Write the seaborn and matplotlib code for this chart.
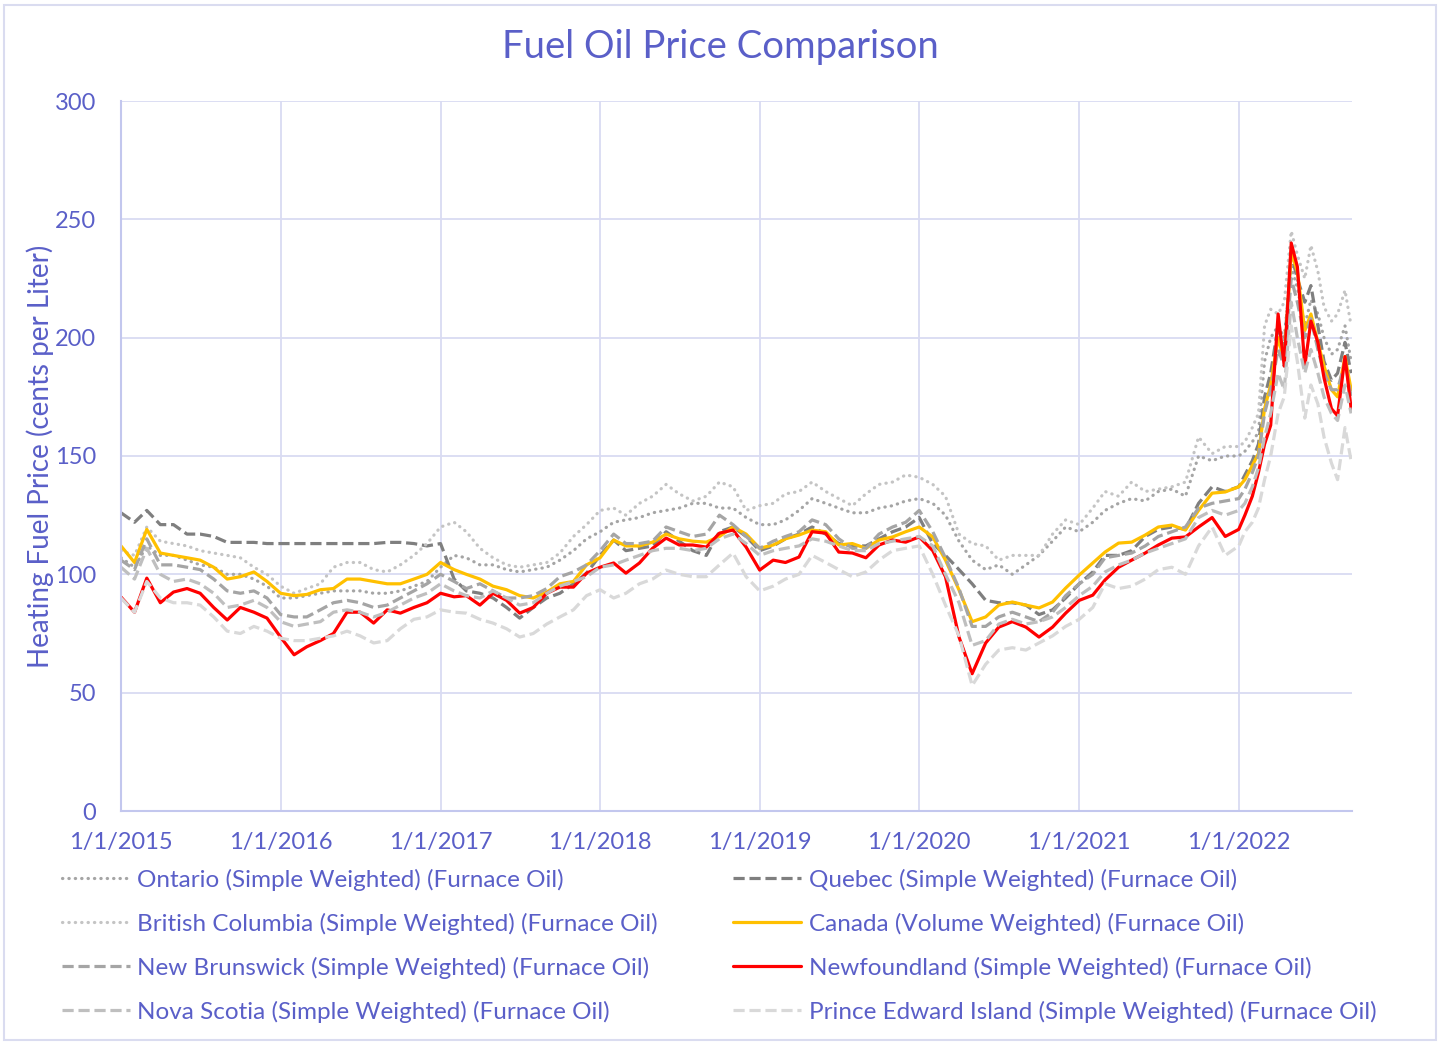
import numpy as np
import pandas as pd
import matplotlib
matplotlib.use("Agg")
import matplotlib.pyplot as plt
import matplotlib.dates as mdates
from matplotlib.patches import Rectangle
import seaborn as sns

# monthly 2015-2021, then twice a month in 2022
dates = list(pd.date_range("2015-01-01", "2021-12-01", freq="MS")) + list(pd.to_datetime([
    "2022-01-01", "2022-01-15", "2022-02-01", "2022-02-15", "2022-03-01", "2022-03-15",
    "2022-04-01", "2022-04-15", "2022-05-01", "2022-05-15", "2022-06-01", "2022-06-15",
    "2022-07-01", "2022-07-15", "2022-08-01", "2022-08-15", "2022-09-01", "2022-09-15"]))

ontario = [107, 103, 112, 108, 108, 106, 104, 103, 100, 100, 98, 95,
           90, 90, 91, 92, 93, 93, 93, 92, 92, 93, 95, 97,
           103, 108, 107, 104, 104, 102, 101, 102, 103, 106, 110, 115,
           118, 122, 123, 124, 126, 127, 128, 130, 130, 128, 128, 124,
           121, 121, 123, 127, 132, 130, 128, 126, 126, 128, 129, 131,
           132, 130, 125, 114, 106, 102, 104, 100, 104, 108, 114, 120,
           118, 122, 127, 130, 132, 131, 135, 136, 133, 150, 148, 150,
           150, 152, 156, 160, 190, 200, 205, 200, 230, 221, 205, 216, 210, 200, 193, 195, 205, 190]
quebec = [126, 122, 127, 121, 121, 117, 117, 116, 113.5, 113.5, 113.5, 113,
          113, 113, 113, 113, 113, 113, 113, 113, 113.5, 113.5, 113, 112,
          113, 98, 93, 92, 90, 86, 81.5, 86, 90, 92, 96, 100.5,
          108, 114.5, 110, 111, 112, 118, 114, 110, 108, 118, 120, 116,
          110, 112, 115, 117, 120, 117, 113, 112, 112, 115, 118, 120,
          124, 113, 108, 102, 96, 89, 88, 88, 87, 83, 85, 90,
          96, 101, 108, 108, 110, 116, 119, 120, 119, 130, 137, 135,
          137, 142, 148, 155, 175, 185, 205, 195, 235, 225, 215, 222, 205, 190, 182, 185, 198, 185]
british_columbia = [110, 108, 120, 114, 113, 112, 110, 109, 108, 107, 103, 100,
                    95, 92, 94, 96, 103, 105, 105, 102, 101, 104, 108, 113,
                    120, 122, 118, 111, 107, 104, 103, 104, 105, 109, 116, 121,
                    127, 128, 125, 130, 133, 138, 134, 131, 133, 139, 137, 127,
                    129, 130, 134, 135, 139, 135, 132, 129, 134, 138, 139, 142,
                    141, 138, 133, 117, 113, 112, 106, 108, 108, 108, 117, 123,
                    121, 128, 135, 133, 139, 135, 136, 137, 139, 158, 151, 154,
                    154, 156, 162, 168, 205, 212, 210, 215, 245, 235, 225, 239, 228, 213, 207, 210, 220, 205]
canada = [112, 105, 119, 109, 108, 107, 106, 103, 98, 99, 101, 97,
          92, 91, 91.5, 93.5, 94, 98, 98, 97, 96, 96, 98, 100,
          105, 102, 100, 98, 95, 93.5, 91, 90, 92.5, 96, 97, 104,
          107, 114.5, 112, 112, 113.6, 117, 115, 114, 113.6, 116, 120, 117,
          111, 112.4, 115, 116.6, 118.7, 118, 112.4, 113, 111, 114.5, 115.8, 118,
          120, 115.8, 106, 93.4, 80, 82, 87, 88.3, 87, 85.8, 88.3, 94.2,
          99.7, 104.8, 109.4, 113.2, 113.6, 116.6, 120, 120.8, 118.7, 127, 134.3, 134.8,
          137, 140, 146, 151, 170, 180, 200, 190, 236, 228, 203, 210, 198, 188, 178, 175, 192, 178]
new_brunswick = [106, 102, 115, 104, 104, 103, 102, 98, 93, 92, 93, 90,
                 83, 82, 82, 85, 88, 89, 88, 86, 87, 90, 93, 96,
                 100, 97, 94, 96, 93, 90, 90, 91, 94, 99, 101, 104,
                 110, 117, 113, 113, 114, 120, 118, 116, 117, 125, 121, 116,
                 111, 114, 116, 118, 123, 121, 115, 111, 111, 117, 120, 122,
                 127, 118, 107, 94, 78, 78, 82, 84, 82, 80, 84, 91,
                 96, 100, 107, 108, 109, 112, 116, 118, 120, 128, 130, 131,
                 132, 136, 143, 150, 168, 178, 195, 188, 225, 215, 200, 208, 195, 185, 178, 178, 190, 175]
newfoundland = [90.4, 84, 98.4, 88, 92.5, 94, 92, 86, 80.7, 86, 84, 81.5,
                73.5, 66, 69.4, 72, 75, 84, 84, 79.4, 85, 83.6, 86, 88,
                92, 90.5, 91, 87, 92, 89, 83.6, 86, 92, 94.6, 94.6, 100.5,
                103, 104.8, 100.5, 104.8, 111, 115.3, 112.4, 112.4, 111.5, 117.4, 118.7, 111.5,
                101.8, 106, 105, 107.3, 118, 117.4, 109.4, 109, 107, 112.4, 114.5, 113.6,
                115.8, 110, 99, 73.5, 58, 71, 77.7, 80, 77.7, 73.5, 77.7, 83.6,
                89, 91.2, 97.6, 103, 106, 109, 112.4, 115.3, 115.8, 120, 124, 116,
                119, 125, 133, 143, 155, 163, 210, 188, 240, 230, 188, 207, 198, 183, 170, 167, 192, 170]
nova_scotia = [103, 98, 111, 100, 97, 98, 96, 92, 86, 87, 89, 86,
               80, 78, 79, 80, 84, 85, 84, 82, 84, 87, 90, 92,
               96, 93, 91, 90, 93, 90, 87, 88, 92, 95, 97, 99,
               103, 104, 106, 108, 110, 111, 111, 110, 111, 115, 117, 113,
               108, 110, 111, 112, 115, 114, 112, 110, 110, 113, 114, 115,
               116, 112, 100, 88, 70, 72, 79, 81, 79, 80, 82, 86,
               91, 95, 101, 104, 106, 109, 111, 113, 115, 124, 127, 125,
               127, 130, 137, 145, 158, 168, 185, 178, 215, 200, 185, 195, 185, 175, 168, 165, 180, 168]
pei = [90, 84, 97, 90, 88, 88, 87, 82, 76, 75, 78, 76,
       73, 72, 72, 73, 74, 76, 74, 71, 72, 77, 81, 82,
       85, 84, 83.6, 81, 79.4, 77, 73.5, 75, 79, 82, 85, 91,
       93.5, 90, 92, 96, 98, 101.8, 100, 99, 99, 104, 109, 99,
       93, 95, 98, 100, 108, 105, 102, 99, 101, 106, 110, 111,
       112, 100, 87, 74, 53, 62, 68, 69, 68, 71, 74, 78,
       81, 86, 96, 94, 95, 98, 102, 103, 100, 112, 120, 108,
       112, 118, 122, 128, 140, 150, 168, 175, 205, 190, 166, 180, 172, 158, 147, 140, 162, 148]

text_col = "#5A5FC8"
grid_col = "#D9DBF2"

dot = (0, (0.1, 1.9))
dash = (0, (3.5, 1.5))
# drawing order as in the original workbook
series = [
    ("Ontario (Simple Weighted) (Furnace Oil)", ontario, "#A5A5A5", dot),
    ("Quebec (Simple Weighted) (Furnace Oil)", quebec, "#7F7F7F", dash),
    ("British Columbia (Simple Weighted) (Furnace Oil)", british_columbia, "#C4C4C4", dot),
    ("Canada (Volume Weighted) (Furnace Oil)", canada, "#FFC000", "-"),
    ("New Brunswick (Simple Weighted) (Furnace Oil)", new_brunswick, "#A5A5A5", dash),
    ("Newfoundland (Simple Weighted) (Furnace Oil)", newfoundland, "#FF0000", "-"),
    ("Nova Scotia (Simple Weighted) (Furnace Oil)", nova_scotia, "#BFBFBF", dash),
    ("Prince Edward Island (Simple Weighted) (Furnace Oil)", pei, "#D9D9D9", dash),
]

sns.set_theme(style="white")
plt.rcParams["font.family"] = ["Lato", "DejaVu Sans"]

fig = plt.figure(figsize=(14.4, 10.42), dpi=100)
ax = fig.add_axes([121 / 1440, 1 - 811 / 1042, (1352 - 121) / 1440, (811 - 101) / 1042])

lines = {}
for name, vals, col, ls in series:
    sns.lineplot(x=dates, y=vals, ax=ax, color=col, linestyle=ls, linewidth=2.3,
                 dash_capstyle="round" if ls is dot else "butt", label=name, legend=False)
    lines[name] = ax.get_lines()[-1]

ax.set_ylim(0, 300)
ax.set_yticks(range(0, 301, 50))
ax.set_xlim(pd.Timestamp("2015-01-01"), pd.Timestamp("2022-09-17"))
ax.set_xticks(pd.date_range("2015-01-01", "2022-01-01", freq="YS"))
ax.xaxis.set_major_formatter(mdates.DateFormatter("%-m/%-d/%Y"))
ax.grid(True, color=grid_col, linewidth=1.3)
ax.tick_params(length=0, labelsize=17, labelcolor=text_col)
ax.tick_params(axis="y", pad=18)
ax.tick_params(axis="x", pad=15)
for s in ["top", "right"]:
    ax.spines[s].set_visible(False)
for s in ["left", "bottom"]:
    ax.spines[s].set_color("#C3C7EE")
    ax.spines[s].set_linewidth(1.5)
ax.set_xlabel("")
ax.set_ylabel("")

fig.text(0.5, 1 - 47 / 1042, "Fuel Oil Price Comparison", ha="center", va="center",
         fontsize=27.5, color=text_col)
fig.text(40 / 1440, 1 - 456 / 1042, "Heating Fuel Price (cents per Liter)", rotation=90,
         ha="center", va="center", fontsize=20, color=text_col)

order = [0, 2, 4, 6, 1, 3, 5, 7]
handles = [lines[series[i][0]] for i in order]
labels = [series[i][0] for i in order]
fig.legend(handles, labels, ncol=2, loc="upper left", bbox_to_anchor=(40 / 1440, 1 - 847 / 1042),
           frameon=False, fontsize=17.5, labelcolor=text_col, handlelength=2.8,
           handletextpad=0.3, columnspacing=3.1, labelspacing=0.9)

fig.add_artist(Rectangle((0.003, 0.002), 0.994, 0.993, transform=fig.transFigure,
                         fill=False, edgecolor="#DADCF0", linewidth=1.5))

fig.savefig("out.png", dpi=100)
